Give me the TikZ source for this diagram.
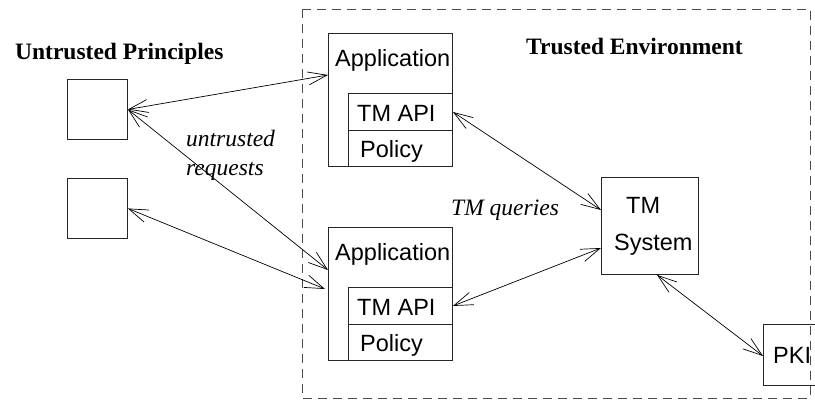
\documentclass[tikz,border=0pt]{standalone}
\usepackage{fontspec}
\setmainfont{Liberation Serif}
\newfontfamily\hv{Liberation Sans}
\usetikzlibrary{arrows.meta}

\tikzset{
  box/.style={draw=black!85, line width=0.9pt, rectangle, inner sep=0pt, anchor=north west},
  lbl/.style={inner sep=0pt, anchor=base west, font=\fontsize{23.5}{28}\selectfont},
  sflbl/.style={lbl, font=\hv\fontsize{23.5}{28}\selectfont},
  title/.style={lbl, font=\bfseries\fontsize{23.5}{28}\selectfont},
  note/.style={lbl, font=\itshape\fontsize{23.5}{28}\selectfont},
  link/.style={line width=0.7pt, {Straight Barb[length=19pt,width=13pt,line width=0.7pt]}-{Straight Barb[length=19pt,width=13pt,line width=0.7pt]}},
  envbox/.style={draw=black!70, line width=0.9pt, dash pattern=on 9pt off 6pt}
}

\begin{document}
\begin{tikzpicture}[x=1pt, y=-1pt]
  \useasboundingbox (0,0) rectangle (815,400);
  \clip (0,0) rectangle (815,400);
  \fill[white] (0,0) rectangle (815,400);

  % trusted environment boundary
  \draw[envbox] (302,9) rectangle (810,398);

  % headings
  \node[title] (hu) at (15,59) {Untrusted Principles};
  \node[title] (ht) at (526,54) {Trusted Environment};

  % untrusted principals
  \node[box, minimum width=60pt, minimum height=60pt] (p1) at (67,79) {};
  \node[box, minimum width=60pt, minimum height=60pt] (p2) at (67,178) {};

  % first application
  \node[box, minimum width=124pt, minimum height=133pt] (app1) at (328,33) {};
  \node[box, minimum width=104pt, minimum height=37pt] (api1) at (348,93) {};
  \node[box, minimum width=104pt, minimum height=36pt] (pol1) at (348,130) {};
  \node[sflbl] (app1t) at (335,66) {Application};
  \node[sflbl] (api1t) at (357,121) {TM API};
  \node[sflbl] (pol1t) at (360,157) {Policy};

  % second application
  \node[box, minimum width=124pt, minimum height=133pt] (app2) at (328,227) {};
  \node[box, minimum width=104pt, minimum height=37pt] (api2) at (348,287) {};
  \node[box, minimum width=104pt, minimum height=36pt] (pol2) at (348,324) {};
  \node[sflbl] (app2t) at (335,260) {Application};
  \node[sflbl] (api2t) at (357,315) {TM API};
  \node[sflbl] (pol2t) at (360,351) {Policy};

  % trust management system
  \node[box, minimum width=97pt, minimum height=97pt] (tms) at (601,177) {};
  \node[sflbl] (tmst1) at (626,213) {TM};
  \node[sflbl] (tmst2) at (614,250) {System};

  % PKI
  \node[box, minimum width=62pt, minimum height=61pt] (pki) at (763,324) {};
  \node[sflbl] (pkit) at (773,363) {PKI};

  % annotations
  \node[note] (n1) at (186,146) {untrusted};
  \node[note] (n2) at (186,175) {requests};
  \node[note] (n3) at (451,215) {TM queries};

  % connections
  \draw[link] (p1.east) -- ([yshift=-42pt]app1.north west);
  \draw[link] (p1.east) -- ([yshift=-43pt]app2.north west);
  \draw[link] (p2.east) -- ([xshift=-3pt,yshift=-62pt]app2.north west);
  \draw[link] (api1.east) -- ([yshift=-33pt]tms.north west);
  \draw[link] (api2.east) -- ([yshift=-71pt]tms.north west);
  \draw[link] ([xshift=56pt]tms.south west) -- ([yshift=-32pt]pki.north west);
\end{tikzpicture}
\end{document}
